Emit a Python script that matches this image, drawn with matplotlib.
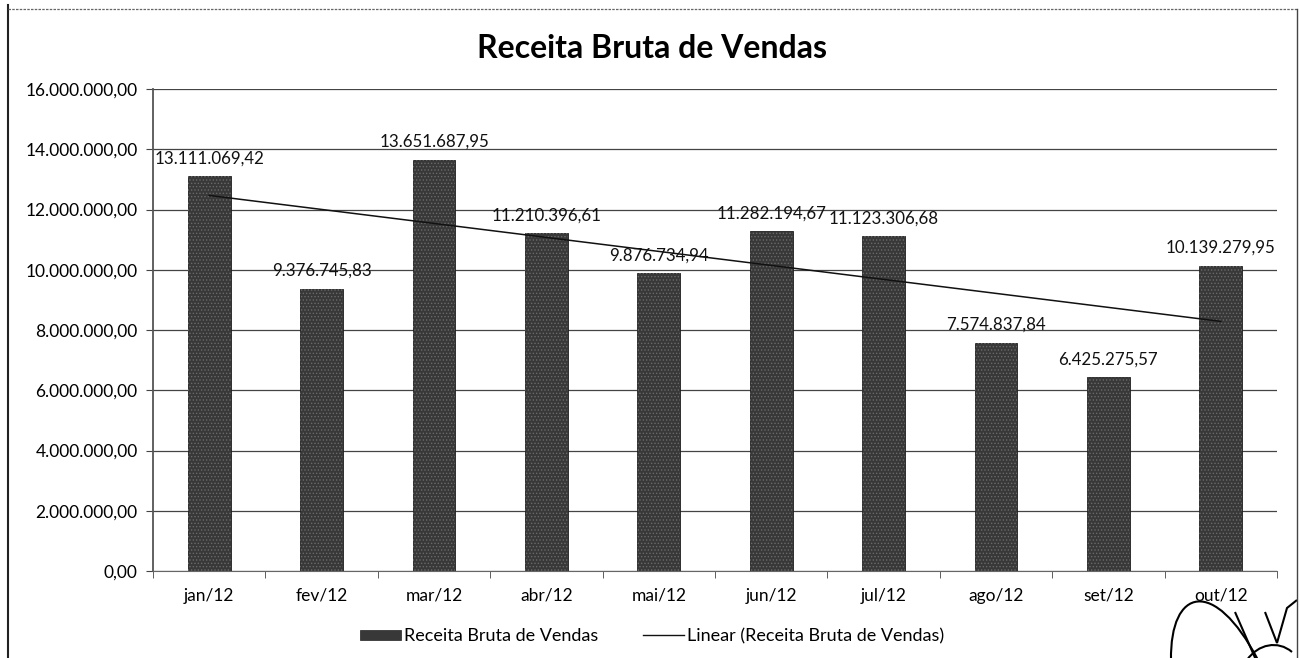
import matplotlib.pyplot as plt
import numpy as np
from matplotlib.lines import Line2D
from matplotlib.patches import Patch, PathPatch
from matplotlib.path import Path
from matplotlib.ticker import FuncFormatter, MultipleLocator
from matplotlib.transforms import IdentityTransform

plt.rcParams['font.family'] = ['Lato', 'DejaVu Sans']
plt.rcParams['hatch.linewidth'] = 0.6

# Receita bruta mensal (R$)
meses = ['jan/12', 'fev/12', 'mar/12', 'abr/12', 'mai/12',
         'jun/12', 'jul/12', 'ago/12', 'set/12', 'out/12']
receita = [13111069.42, 9376745.83, 13651687.95, 11210396.61, 9876734.94,
           11282194.67, 11123306.68, 7574837.84, 6425275.57, 10139279.95]


def fmt_br(v, pos=None):
    s = f"{v:,.2f}"
    return s.replace(',', '#').replace('.', ',').replace('#', '.')


x = np.arange(len(meses))
y = np.array(receita)

# tendência linear, como no Excel
coef = np.polyfit(x + 1, y, 1)
tendencia = np.polyval(coef, x + 1)

W, H = 1300, 658
fig = plt.figure(figsize=(W / 100, H / 100), dpi=100)
ax = fig.add_axes([0.1177, 0.1322, 0.8646, 0.7325])

cor_barra = '#383838'
ax.bar(x, y, width=0.38, color=cor_barra, edgecolor='#1e1e1e',
       linewidth=0.6, zorder=2)
# granulado leve nas barras
ax.bar(x, y, width=0.38, facecolor='none', edgecolor='#6a6a6a',
       linewidth=0, hatch='.....', zorder=2)
ax.plot(x, tendencia, color='#111111', linewidth=1.1, zorder=3)

for xi, v in zip(x, y):
    ax.annotate(fmt_br(v), (xi, v), xytext=(0, 7), textcoords='offset points',
                ha='center', va='bottom', fontsize=12.2, color='#111111',
                zorder=4)

ax.set_xlim(-0.5, len(meses) - 0.5)
ax.set_ylim(0, 16000000)
ax.yaxis.set_major_locator(MultipleLocator(2000000))
ax.yaxis.set_major_formatter(FuncFormatter(fmt_br))
ax.set_xticks(x)
ax.set_xticklabels(meses)
ax.set_xticks(np.arange(-0.5, len(meses)), minor=True)
ax.tick_params(axis='x', which='major', length=0, pad=12, labelsize=12.5)
ax.tick_params(axis='x', which='minor', length=5, direction='out',
               color='#444444')
ax.tick_params(axis='y', length=5, direction='out', color='#444444',
               labelsize=12.5, pad=6)

ax.grid(axis='y', color='#444444', linewidth=0.9, zorder=0)
ax.set_axisbelow(True)
for lado in ['top', 'right']:
    ax.spines[lado].set_visible(False)
ax.spines['left'].set_color('#555555')
ax.spines['left'].set_linewidth(1.3)
ax.spines['bottom'].set_color('#666666')
ax.spines['bottom'].set_linestyle((0, (2, 1)))

fig.text(0.5015, 0.926, 'Receita Bruta de Vendas', ha='center', va='center',
         fontsize=23, fontweight='bold', color='#000000')

handles = [Patch(facecolor=cor_barra, edgecolor='#222222', linewidth=0.5),
           Line2D([], [], color='#111111', linewidth=1.0)]
fig.legend(handles, ['Receita Bruta de Vendas',
                     'Linear (Receita Bruta de Vendas)'],
           loc='center', bbox_to_anchor=(0.5016, 0.033), ncol=2, frameon=False,
           fontsize=13, handlelength=2.27, handleheight=0.55,
           columnspacing=2.44, handletextpad=0.2)

# moldura da área do gráfico
fig.add_artist(Line2D([8 / W, 8 / W], [0, 1 - 5 / H],
                      transform=fig.transFigure, color='#222222', linewidth=1.5))
fig.add_artist(Line2D([8 / W, 1297 / W], [1 - 9 / H, 1 - 9 / H],
                      transform=fig.transFigure, color='#666666',
                      linewidth=0.9, linestyle=(0, (2, 1))))
fig.add_artist(Line2D([1297 / W, 1297 / W], [0, 1 - 9 / H],
                      transform=fig.transFigure, color='#444444', linewidth=1.0))


# rubrica no canto inferior direito (coordenadas em pixels, origem no topo)
def traco(pontos, codigos):
    pts = [(px, H - py) for px, py in pontos]
    fig.add_artist(PathPatch(Path(pts, codigos), facecolor='none',
                             edgecolor='black', linewidth=1.5,
                             transform=IdentityTransform()))


C4 = [Path.MOVETO, Path.CURVE4, Path.CURVE4, Path.CURVE4]
traco([(1171, 660), (1170, 588), (1214, 576), (1258, 660)], C4)
traco([(1235, 612), (1256, 660)], [Path.MOVETO, Path.LINETO])
traco([(1265, 612), (1277, 643), (1287, 608), (1297, 600)],
      [Path.MOVETO, Path.LINETO, Path.LINETO, Path.LINETO])
traco([(1247, 660), (1258, 644), (1278, 640), (1292, 652)], C4)

fig.savefig('out.png', dpi=100, facecolor='white')
